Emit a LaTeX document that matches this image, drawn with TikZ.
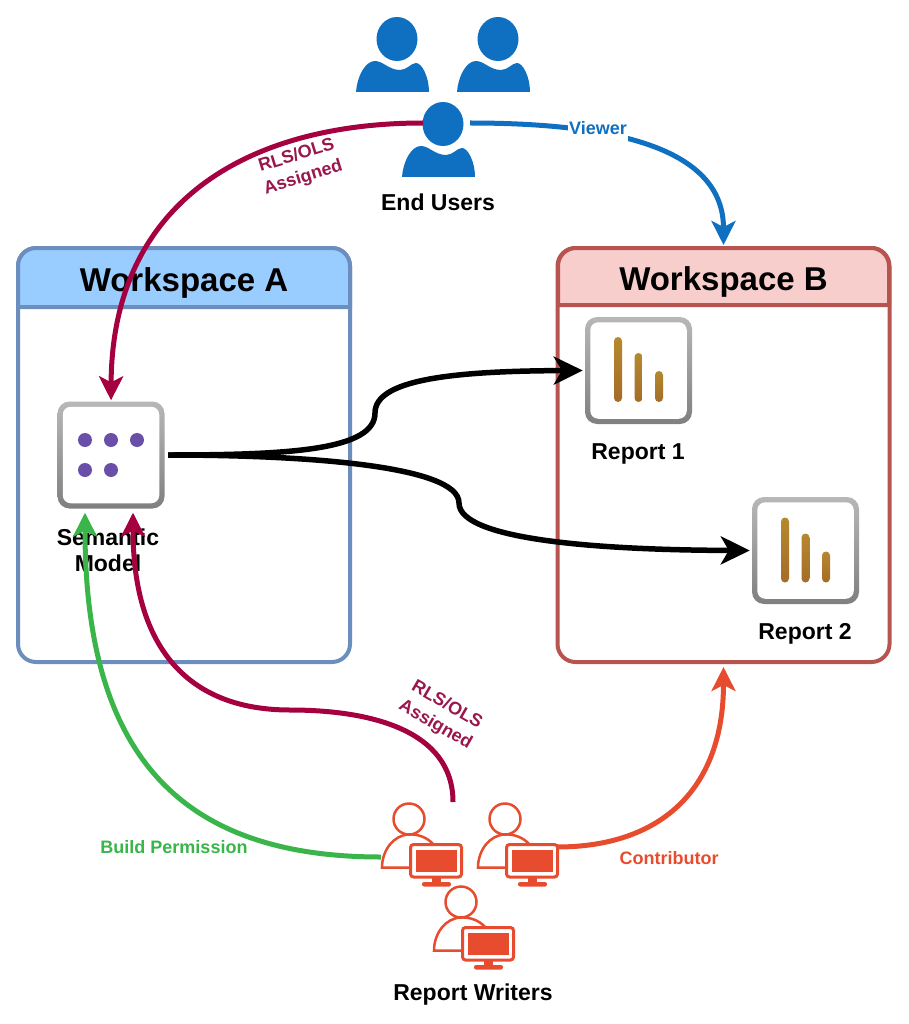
\documentclass[tikz,border=0pt]{standalone}
\usepackage{fontspec}
\setmainfont{Liberation Sans}
\usetikzlibrary{arrows.meta}

\definecolor{userblue}{HTML}{0F6FC1}
\definecolor{rlsred}{HTML}{A50040}
\definecolor{rlstext}{HTML}{99174D}
\definecolor{writerred}{HTML}{E84C2E}
\definecolor{buildgreen}{HTML}{39B54A}
\definecolor{wsaline}{HTML}{6C8EBF}
\definecolor{wsafill}{HTML}{99CCFF}
\definecolor{wsbline}{HTML}{B85450}
\definecolor{wsbfill}{HTML}{F8CECC}
\definecolor{dotpurple}{HTML}{6A4FA8}
\definecolor{bartop}{HTML}{B5892E}
\definecolor{barbot}{HTML}{A46C28}

\begin{document}
\begin{tikzpicture}[x=1pt,y=-1pt]
    \tikzset{
    wsbox/.style={rectangle,rounded corners=18pt,line width=4pt,minimum width=332pt,minimum height=414pt,inner sep=0pt,fill=white},
    wstitle/.style={font=\bfseries\fontsize{33}{38}\selectfont},
    lbl/.style={font=\bfseries\fontsize{23}{26}\selectfont,align=center},
    tag/.style={font=\bfseries\fontsize{18}{23}\selectfont,align=center},
    tile/.style={rectangle,rounded corners=12pt,minimum size=107pt,inner sep=0pt,top color=black!28,bottom color=black!50},
    face/.style={rectangle,rounded corners=8pt,minimum size=96.5pt,inner sep=0pt,fill=white},
    c1/.style={line width=5pt,-{Stealth[length=24pt,width=24pt,inset=6pt]}},
    c2/.style={line width=5.5pt,-{Stealth[length=29pt,width=28pt,inset=8pt]}},
    enduser/.pic={
        \fill[userblue] (0,0) ellipse [x radius=20.5,y radius=22];
        \fill[userblue] (-41,53) .. controls (-40,38) and (-32,22) .. (-22,22)
            .. controls (-14,22) and (-8,31) .. (3,31)
            .. controls (10,31) and (14,24) .. (19,24)
            .. controls (25,24) and (32,38) .. (32,53) -- cycle;
    },
    writer/.pic={
        \draw[writerred,line width=2.5pt] (0,0) circle (15.5);
        \draw[writerred,line width=2.5pt] (24,25) .. controls (18,18) and (8,15) .. (0,15.5)
            .. controls (-16,16) and (-27,32) .. (-27,48.5) -- (1,48.5);
        \draw[writerred,line width=3pt,fill=white,rounded corners=3pt] (1.5,25.5) rectangle (52.5,58);
        \fill[writerred] (7,31) rectangle (48,53);
        \fill[writerred] (23,58) rectangle (32,64);
        \fill[writerred,rounded corners=2pt] (13,63) rectangle (42,67.5);
    },
    bars/.pic={
        \foreach \bx/\bt in {0/0,20.5/16,41/34}
            \shade[top color=bartop,bottom color=barbot,rounded corners=4pt] (\bx-4,\bt) rectangle (\bx+4,65);
    },
    }
    % workspaces
    \node[wsbox,draw=wsaline] (wsa) at (184,455) {};
    \draw[line width=4pt,draw=wsaline,fill=wsafill] (18,307) [rounded corners=18pt] -- (18,248) -- (350,248) [sharp corners] -- (350,307) -- cycle;
    \node[wstitle] (wsatitle) at (184,283) {Workspace A};

    \node[wsbox,draw=wsbline] (wsb) at (723.5,455) {};
    \draw[line width=4pt,draw=wsbline,fill=wsbfill] (558,305) [rounded corners=18pt] -- (558,248) -- (889,248) [sharp corners] -- (889,305) -- cycle;
    \node[wstitle] (wsbtitle) at (723.5,282) {Workspace B};

    % tiles
    \node[tile] (model) at (111,455) {};
    \node[face] (modelface) at (model) {};
    \foreach \dx/\dy in {85/440,111/440,137/440,85/470,111/470}
        \fill[dotpurple] (\dx,\dy) circle (7);
    \node[lbl] (modelname) at (108,550) {Semantic\\Model};

    \node[tile] (rep1) at (638.5,370.5) {};
    \node[face] (rep1face) at (rep1) {};
    \pic (rep1bars) at (618,337) {bars};
    \node[lbl] (rep1name) at (638,454) {Report 1};

    \node[tile] (rep2) at (805.5,550.5) {};
    \node[face] (rep2face) at (rep2) {};
    \pic (rep2bars) at (785,517.5) {bars};
    \node[lbl] (rep2name) at (805,634) {Report 2};

    % people
    \pic (user1) at (397,39) {enduser};
    \pic (user2) at (498,39) {enduser};
    \pic (user3) at (443,124) {enduser};
    \node[lbl] (usersname) at (438,202) {End Users};

    \pic (writer1) at (409,819) {writer};
    \pic (writer2) at (505,819) {writer};
    \pic (writer3) at (461,902) {writer};
    \node[lbl] (writersname) at (473,995) {Report Writers};

    \coordinate (userw) at (423,123);
    \coordinate (usere) at (470,123);
    \coordinate (modelout) at (168,455);
    \coordinate (w1west) at (381,857);
    \coordinate (w1top) at (453,802);
    \coordinate (w2east) at (557,847);
    \coordinate (bendup) at (375,413);
    \coordinate (benddown) at (459,503);
    \coordinate (bendrls) at (290,710);

    % connectors
    \draw[c1,rlsred,shorten >=1pt] (userw) .. controls (250,123) and (112,200) .. (model.north);
    \draw[c1,userblue,shorten >=1pt] (usere) .. controls (620,123) and (723.5,150) .. (wsb.north);
    \draw[c2,black,shorten >=2pt] (modelout) .. controls (290,455) and (375,450) .. (bendup)
        .. controls (375,380) and (450,371) .. (rep1.west);
    \draw[c2,black,shorten >=2pt] (modelout) .. controls (300,455) and (459,465) .. (benddown)
        .. controls (459,540) and (600,550) .. (rep2.west);
    \draw[c1,buildgreen,shorten >=4pt] (w1west) .. controls (180,857) and (85,755) .. ([xshift=-26pt]model.south);
    \draw[c1,rlsred,shorten >=4pt] (w1top) .. controls (453,730) and (370,710) .. (bendrls)
        .. controls (190,710) and (133,650) .. ([xshift=22pt]model.south);
    \draw[c1,writerred,shorten >=3pt] (w2east) .. controls (660,847) and (723.5,790) .. (wsb.south);

    % labels
    \node[tag,userblue,fill=white,inner xsep=1pt,inner ysep=6pt] (viewer) at (598,128) {Viewer};
    \node[tag,rlstext,rotate=17] (rlstop) at (300,167) {RLS/OLS\\Assigned};
    \node[tag,rlstext,rotate=-30] (rlsbottom) at (441,715) {RLS/OLS\\Assigned};
    \node[tag,buildgreen] (build) at (174,847) {Build Permission};
    \node[tag,writerred] (contrib) at (669,858) {Contributor};

    \useasboundingbox (0,0) rectangle (908,1024);
\end{tikzpicture}
\end{document}
